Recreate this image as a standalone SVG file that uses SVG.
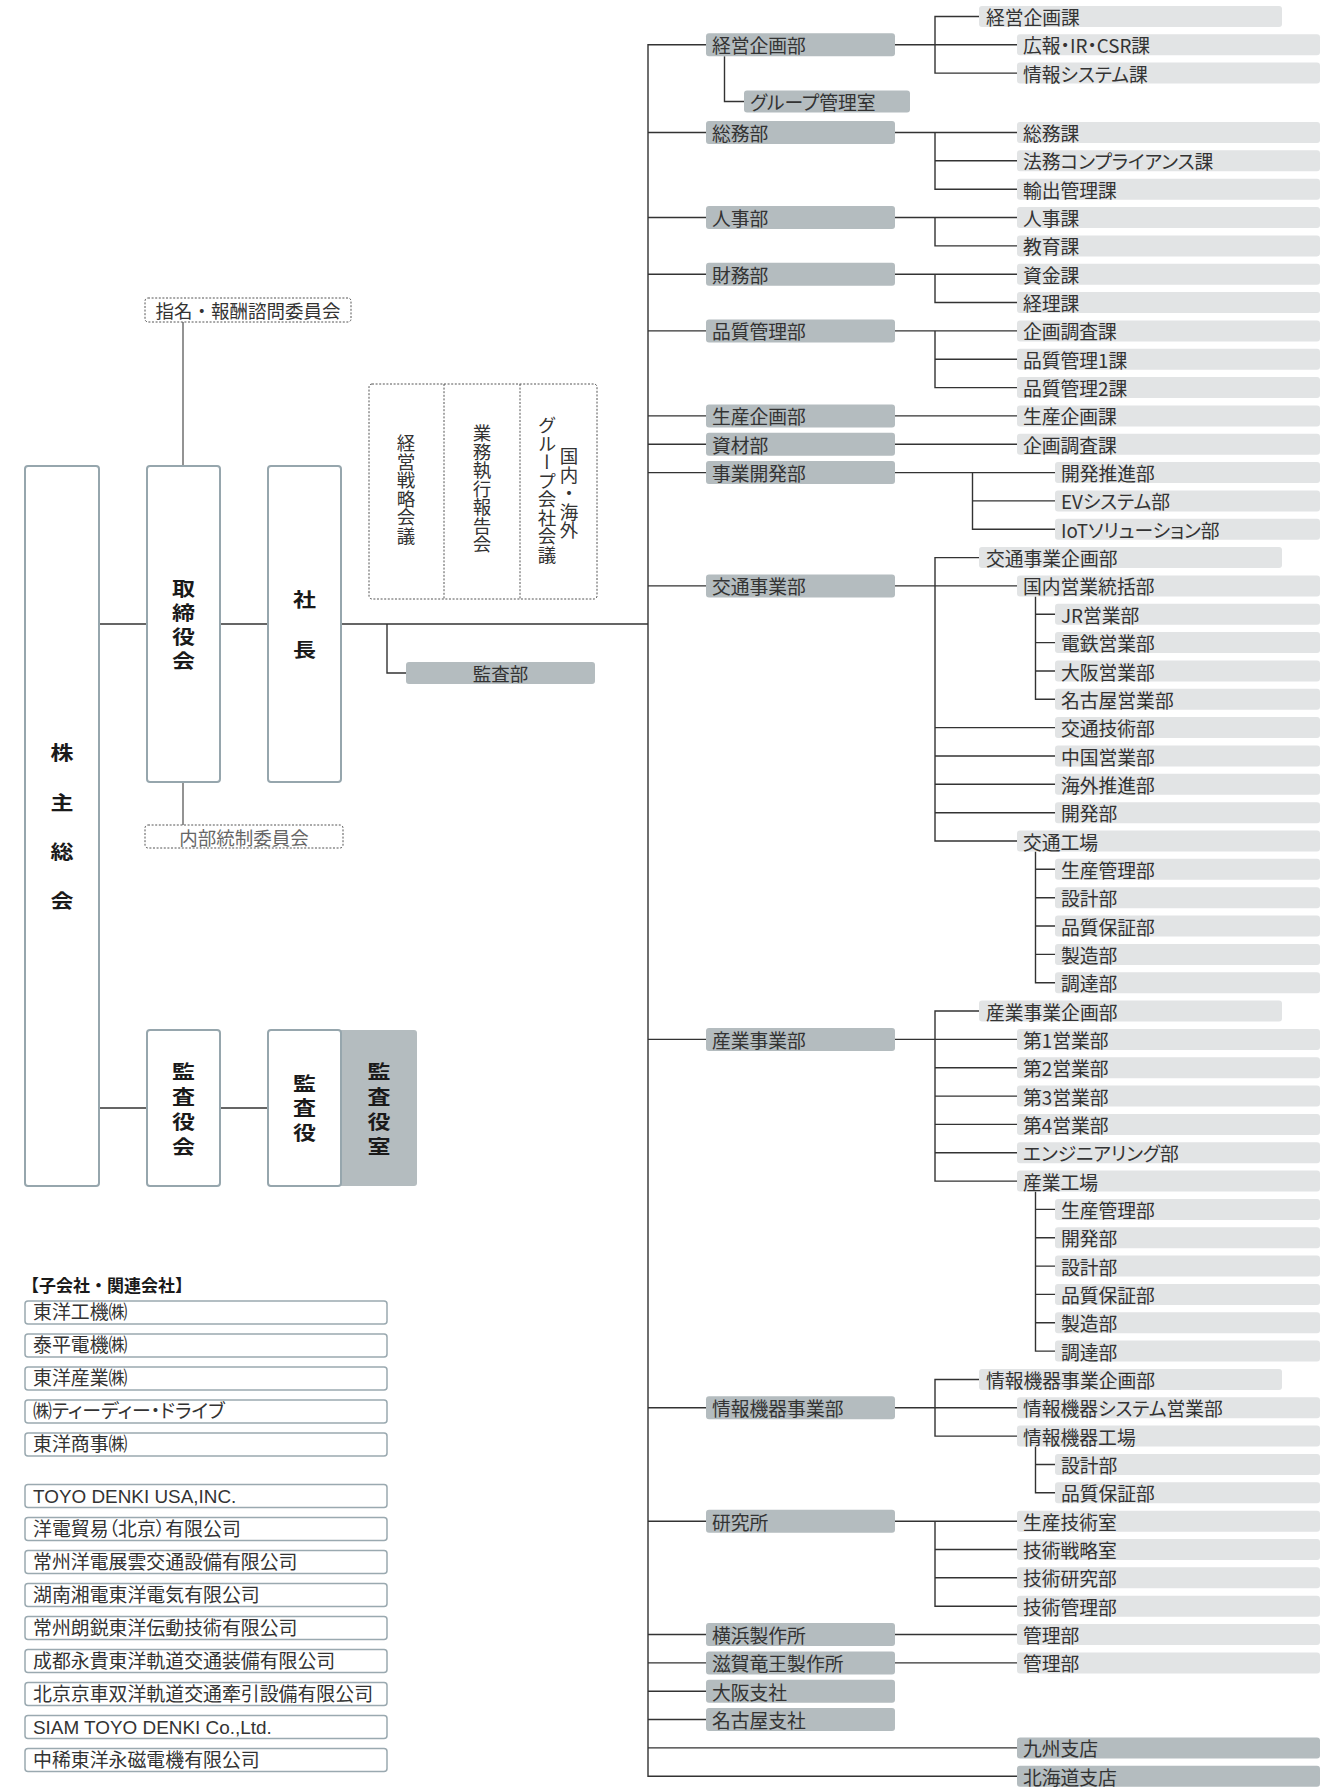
<svg xmlns="http://www.w3.org/2000/svg" width="1334" height="1787" viewBox="0 0 1334 1787">
<style>
.bg{fill:#fff}
.d{fill:#b4bcbf;rx:3px}
.s{fill:#e2e4e5;rx:3px}
.big{fill:#fff;stroke:#96a6ad;stroke-width:2;rx:3px}
.co{fill:#fff;stroke:#9aa9b0;stroke-width:1.5;rx:3px}
.dash{fill:none;stroke:#555;stroke-width:1;stroke-dasharray:2 1.6;rx:3px}
.ln{fill:none;stroke:#333;stroke-width:1.4}
.lg{fill:none;stroke:#666;stroke-width:1.4}
.t{font-family:"Noto Sans CJK JP",sans-serif;font-size:18.8px;fill:#333;dominant-baseline:central;font-feature-settings:"palt"}
.tn{font-family:"Noto Sans CJK JP",sans-serif;font-size:18.5px;fill:#333;dominant-baseline:central}
.tv{font-family:"Noto Sans CJK JP",sans-serif;font-size:18.5px;fill:#333;writing-mode:vertical-rl}
.tl{font-family:"Liberation Sans","Noto Sans CJK JP",sans-serif;font-size:18.9px;fill:#333;dominant-baseline:central;font-feature-settings:"palt"}
.b{font-family:"Noto Sans CJK JP",sans-serif;font-weight:bold;font-size:23px;fill:#1a1a1a;text-anchor:middle;dominant-baseline:central;transform-box:fill-box;transform-origin:center;transform:scaleY(.82)}
.h{font-family:"Noto Sans CJK JP",sans-serif;font-weight:bold;font-size:17px;fill:#1a1a1a;dominant-baseline:central}
</style>
<rect class="bg" x="0" y="0" width="1334" height="1787"/>

<g id="connectors">
<path class="lg" d="M183,322V466M183,782V825"/>
<path class="ln" d="M99,624H147M220,624H268M341,624H648M387,624V673H406M99,1108H147M220,1108H268"/>
<path class="ln" d="M706,44.8H648V1776.2H1017M648,132.5H706M648,217.5H706M648,274.2H706M648,330.9H706M648,415.9H706M648,444.2H706M648,472.6H706M648,585.9H706M648,1039.4H706M648,1407.8H706M648,1521.2H706M648,1634.5H706M648,1662.9H706M648,1691.2H706M648,1719.5H706M648,1747.9H1017"/>
<path class="ln" d="M895,44.8H1017M979,16.5H935V73.1H1017M724.5,56.3V101.5H744"/>
<path class="ln" d="M895,132.5H1017M935,132.5V189.2H1017M935,160.8H1017"/>
<path class="ln" d="M895,217.5H1017M935,217.5V245.9H1017"/>
<path class="ln" d="M895,274.2H1017M935,274.2V302.5H1017"/>
<path class="ln" d="M895,330.9H1017M935,330.9V387.6H1017M935,359.2H1017"/>
<path class="ln" d="M895,415.9H1017M895,444.2H1017"/>
<path class="ln" d="M895,472.6H1055M972.5,472.6V529.3H1055M972.5,500.9H1055"/>
<path class="ln" d="M895,585.9H1017M979,557.6H935V841H1017M935,727.6H1055M935,756H1055M935,784.3H1055M935,812.7H1055"/>
<path class="ln" d="M1035.5,596.4V699.3H1055M1035.5,614.3H1055M1035.5,642.6H1055M1035.5,671H1055"/>
<path class="ln" d="M1035.5,851.5V982.7H1055M1035.5,869.3H1055M1035.5,897.7H1055M1035.5,926H1055M1035.5,954.4H1055"/>
<path class="ln" d="M895,1039.4H1017M979,1011H935V1181.1H1017M935,1067.7H1017M935,1096.1H1017M935,1124.4H1017M935,1152.7H1017"/>
<path class="ln" d="M1035.5,1191.6V1351.1H1055M1035.5,1209.4H1055M1035.5,1237.8H1055M1035.5,1266.1H1055M1035.5,1294.4H1055M1035.5,1322.8H1055"/>
<path class="ln" d="M895,1407.8H1017M979,1379.5H935V1436.1H1017M1035.5,1446.6V1492.8H1055M1035.5,1464.5H1055"/>
<path class="ln" d="M895,1521.2H1017M935,1521.2V1606.2H1017M935,1549.5H1017M935,1577.8H1017"/>
<path class="ln" d="M895,1634.5H1017M895,1662.9H1017"/>
</g>

<g id="kabunushi"><rect class="big" x="25" y="466" width="74" height="720"/>
<text class="b" x="62" y="752">株</text><text class="b" x="62" y="802">主</text><text class="b" x="62" y="851">総</text><text class="b" x="62" y="900">会</text></g>
<g id="torishimariyakukai"><rect class="big" x="147" y="466" width="73" height="316"/>
<text class="b" x="183.5" y="587.5">取</text><text class="b" x="183.5" y="611.7">締</text><text class="b" x="183.5" y="635.8">役</text><text class="b" x="183.5" y="660">会</text></g>
<g id="shacho"><rect class="big" x="268" y="466" width="73" height="316"/>
<text class="b" x="304.5" y="599">社</text><text class="b" x="304.5" y="649">長</text></g>
<g id="shimei"><rect class="dash" x="145" y="298" width="206" height="24"/>
<text class="tn" x="248" y="310" text-anchor="middle">指名・報酬諮問委員会</text></g>
<g id="naibu"><rect class="dash" x="145" y="825" width="198" height="23"/>
<text class="tn" x="244" y="836.5" text-anchor="middle" style="fill:#666">内部統制委員会</text></g>
<g id="meetings"><rect class="dash" x="369" y="384" width="228" height="215"/>
<path class="dash" d="M444,384V599M520,384V599"/>
<text class="tv" x="406" y="434">経営戦略会議</text>
<text class="tv" x="482" y="424">業務執行報告会</text>
<text class="tv" x="547" y="416">グループ会社会議</text>
<text class="tv" x="569" y="447">国内・海外</text></g>
<g id="kansabu"><rect class="d" x="406" y="662" width="189" height="22"/>
<text class="tn" x="500.5" y="673" text-anchor="middle">監査部</text></g>
<g id="kansayakukai"><rect class="big" x="147" y="1030" width="73" height="156"/>
<text class="b" x="183.5" y="1071">監</text><text class="b" x="183.5" y="1096">査</text><text class="b" x="183.5" y="1121">役</text><text class="b" x="183.5" y="1146">会</text></g>
<g id="kansayaku"><rect class="d" x="330" y="1030" width="87" height="156"/><rect class="big" x="268" y="1030" width="73" height="156"/>
<text class="b" x="304.5" y="1082.5">監</text><text class="b" x="304.5" y="1107">査</text><text class="b" x="304.5" y="1132">役</text>
<text class="b" x="379" y="1071">監</text><text class="b" x="379" y="1096">査</text><text class="b" x="379" y="1121">役</text><text class="b" x="379" y="1146">室</text></g>

<g id="affiliates">
<text class="h" x="22" y="1284.5">【子会社・関連会社】</text>
<g id="c1"><rect class="co" x="25" y="1301" width="362" height="23"/><text class="tl" x="33" y="1312.5">東洋工機㈱</text></g>
<g id="c2"><rect class="co" x="25" y="1334" width="362" height="23"/><text class="tl" x="33" y="1345.5">泰平電機㈱</text></g>
<g id="c3"><rect class="co" x="25" y="1367" width="362" height="23"/><text class="tl" x="33" y="1378.5">東洋産業㈱</text></g>
<g id="c4"><rect class="co" x="25" y="1400" width="362" height="23"/><text class="tl" x="33" y="1411.5">㈱ティーディー・ドライブ</text></g>
<g id="c5"><rect class="co" x="25" y="1433" width="362" height="23"/><text class="tl" x="33" y="1444.5">東洋商事㈱</text></g>
<g id="c6"><rect class="co" x="25" y="1484.5" width="362" height="23"/><text class="tl" x="33" y="1496">TOYO DENKI USA,INC.</text></g>
<g id="c7"><rect class="co" x="25" y="1517.5" width="362" height="23"/><text class="tl" x="33" y="1529">洋電貿易（北京）有限公司</text></g>
<g id="c8"><rect class="co" x="25" y="1550.5" width="362" height="23"/><text class="tl" x="33" y="1562">常州洋電展雲交通設備有限公司</text></g>
<g id="c9"><rect class="co" x="25" y="1583.5" width="362" height="23"/><text class="tl" x="33" y="1595">湖南湘電東洋電気有限公司</text></g>
<g id="c10"><rect class="co" x="25" y="1616.5" width="362" height="23"/><text class="tl" x="33" y="1628">常州朗鋭東洋伝動技術有限公司</text></g>
<g id="c11"><rect class="co" x="25" y="1649.5" width="362" height="23"/><text class="tl" x="33" y="1661">成都永貴東洋軌道交通装備有限公司</text></g>
<g id="c12"><rect class="co" x="25" y="1682.5" width="362" height="23"/><text class="tl" x="33" y="1694">北京京車双洋軌道交通牽引設備有限公司</text></g>
<g id="c13"><rect class="co" x="25" y="1715.5" width="362" height="23"/><text class="tl" x="33" y="1727">SIAM TOYO DENKI Co.,Ltd.</text></g>
<g id="c14"><rect class="co" x="25" y="1748.5" width="362" height="23"/><text class="tl" x="33" y="1760">中稀東洋永磁電機有限公司</text></g>
</g>

<g id="depts">
<g id="d1"><rect class="d" x="706" y="33.3" width="189" height="23"/><text class="t" x="712" y="44.8">経営企画部</text></g>
<g id="d1a"><rect class="d" x="744" y="90.5" width="166" height="22"/><text class="t" x="750" y="101.5">グループ管理室</text></g>
<g id="d2"><rect class="d" x="706" y="121" width="189" height="23"/><text class="t" x="712" y="132.5">総務部</text></g>
<g id="d3"><rect class="d" x="706" y="206" width="189" height="23"/><text class="t" x="712" y="217.5">人事部</text></g>
<g id="d4"><rect class="d" x="706" y="262.7" width="189" height="23"/><text class="t" x="712" y="274.2">財務部</text></g>
<g id="d5"><rect class="d" x="706" y="319.4" width="189" height="23"/><text class="t" x="712" y="330.9">品質管理部</text></g>
<g id="d6"><rect class="d" x="706" y="404.4" width="189" height="23"/><text class="t" x="712" y="415.9">生産企画部</text></g>
<g id="d7"><rect class="d" x="706" y="432.7" width="189" height="23"/><text class="t" x="712" y="444.2">資材部</text></g>
<g id="d8"><rect class="d" x="706" y="461.1" width="189" height="23"/><text class="t" x="712" y="472.6">事業開発部</text></g>
<g id="d9"><rect class="d" x="706" y="574.4" width="189" height="23"/><text class="t" x="712" y="585.9">交通事業部</text></g>
<g id="d10"><rect class="d" x="706" y="1027.9" width="189" height="23"/><text class="t" x="712" y="1039.4">産業事業部</text></g>
<g id="d11"><rect class="d" x="706" y="1396.3" width="189" height="23"/><text class="t" x="712" y="1407.8">情報機器事業部</text></g>
<g id="d12"><rect class="d" x="706" y="1509.7" width="189" height="23"/><text class="t" x="712" y="1521.2">研究所</text></g>
<g id="d13"><rect class="d" x="706" y="1623" width="189" height="23"/><text class="t" x="712" y="1634.5">横浜製作所</text></g>
<g id="d14"><rect class="d" x="706" y="1651.4" width="189" height="23"/><text class="t" x="712" y="1662.9">滋賀竜王製作所</text></g>
<g id="d15"><rect class="d" x="706" y="1679.7" width="189" height="23"/><text class="t" x="712" y="1691.2">大阪支社</text></g>
<g id="d16"><rect class="d" x="706" y="1708" width="189" height="23"/><text class="t" x="712" y="1719.5">名古屋支社</text></g>
<g id="d17"><rect class="d" x="1017" y="1737.4" width="303" height="21"/><text class="t" x="1023" y="1747.9">九州支店</text></g>
<g id="d18"><rect class="d" x="1017" y="1765.7" width="303" height="21"/><text class="t" x="1023" y="1776.2">北海道支店</text></g>
</g>

<g id="sections-l0">
<g id="p1"><rect class="s" x="979" y="6" width="303" height="21"/><text class="t" x="986" y="16.5">経営企画課</text></g>
<g id="p2"><rect class="s" x="979" y="547.1" width="303" height="21"/><text class="t" x="986" y="557.6">交通事業企画部</text></g>
<g id="p3"><rect class="s" x="979" y="1000.5" width="303" height="21"/><text class="t" x="986" y="1011">産業事業企画部</text></g>
<g id="p4"><rect class="s" x="979" y="1369" width="303" height="21"/><text class="t" x="986" y="1379.5">情報機器事業企画部</text></g>
</g>

<g id="sections-l1">
<g id="s1"><rect class="s" x="1017" y="34.3" width="303" height="21"/><text class="t" x="1023" y="44.8">広報・IR・CSR課</text></g>
<g id="s2"><rect class="s" x="1017" y="62.6" width="303" height="21"/><text class="t" x="1023" y="73.1">情報システム課</text></g>
<g id="s3"><rect class="s" x="1017" y="122" width="303" height="21"/><text class="t" x="1023" y="132.5">総務課</text></g>
<g id="s4"><rect class="s" x="1017" y="150.3" width="303" height="21"/><text class="t" x="1023" y="160.8">法務コンプライアンス課</text></g>
<g id="s5"><rect class="s" x="1017" y="178.7" width="303" height="21"/><text class="t" x="1023" y="189.2">輸出管理課</text></g>
<g id="s6"><rect class="s" x="1017" y="207" width="303" height="21"/><text class="t" x="1023" y="217.5">人事課</text></g>
<g id="s7"><rect class="s" x="1017" y="235.4" width="303" height="21"/><text class="t" x="1023" y="245.9">教育課</text></g>
<g id="s8"><rect class="s" x="1017" y="263.7" width="303" height="21"/><text class="t" x="1023" y="274.2">資金課</text></g>
<g id="s9"><rect class="s" x="1017" y="292" width="303" height="21"/><text class="t" x="1023" y="302.5">経理課</text></g>
<g id="s10"><rect class="s" x="1017" y="320.4" width="303" height="21"/><text class="t" x="1023" y="330.9">企画調査課</text></g>
<g id="s11"><rect class="s" x="1017" y="348.7" width="303" height="21"/><text class="t" x="1023" y="359.2">品質管理1課</text></g>
<g id="s12"><rect class="s" x="1017" y="377.1" width="303" height="21"/><text class="t" x="1023" y="387.6">品質管理2課</text></g>
<g id="s13"><rect class="s" x="1017" y="405.4" width="303" height="21"/><text class="t" x="1023" y="415.9">生産企画課</text></g>
<g id="s14"><rect class="s" x="1017" y="433.7" width="303" height="21"/><text class="t" x="1023" y="444.2">企画調査課</text></g>
<g id="s15"><rect class="s" x="1017" y="575.4" width="303" height="21"/><text class="t" x="1023" y="585.9">国内営業統括部</text></g>
<g id="s16"><rect class="s" x="1017" y="830.5" width="303" height="21"/><text class="t" x="1023" y="841">交通工場</text></g>
<g id="s17"><rect class="s" x="1017" y="1028.9" width="303" height="21"/><text class="t" x="1023" y="1039.4">第1営業部</text></g>
<g id="s18"><rect class="s" x="1017" y="1057.2" width="303" height="21"/><text class="t" x="1023" y="1067.7">第2営業部</text></g>
<g id="s19"><rect class="s" x="1017" y="1085.6" width="303" height="21"/><text class="t" x="1023" y="1096.1">第3営業部</text></g>
<g id="s20"><rect class="s" x="1017" y="1113.9" width="303" height="21"/><text class="t" x="1023" y="1124.4">第4営業部</text></g>
<g id="s21"><rect class="s" x="1017" y="1142.2" width="303" height="21"/><text class="t" x="1023" y="1152.7">エンジニアリング部</text></g>
<g id="s22"><rect class="s" x="1017" y="1170.6" width="303" height="21"/><text class="t" x="1023" y="1181.1">産業工場</text></g>
<g id="s23"><rect class="s" x="1017" y="1397.3" width="303" height="21"/><text class="t" x="1023" y="1407.8">情報機器システム営業部</text></g>
<g id="s24"><rect class="s" x="1017" y="1425.6" width="303" height="21"/><text class="t" x="1023" y="1436.1">情報機器工場</text></g>
<g id="s25"><rect class="s" x="1017" y="1510.7" width="303" height="21"/><text class="t" x="1023" y="1521.2">生産技術室</text></g>
<g id="s26"><rect class="s" x="1017" y="1539" width="303" height="21"/><text class="t" x="1023" y="1549.5">技術戦略室</text></g>
<g id="s27"><rect class="s" x="1017" y="1567.3" width="303" height="21"/><text class="t" x="1023" y="1577.8">技術研究部</text></g>
<g id="s28"><rect class="s" x="1017" y="1595.7" width="303" height="21"/><text class="t" x="1023" y="1606.2">技術管理部</text></g>
<g id="s29"><rect class="s" x="1017" y="1624" width="303" height="21"/><text class="t" x="1023" y="1634.5">管理部</text></g>
<g id="s30"><rect class="s" x="1017" y="1652.4" width="303" height="21"/><text class="t" x="1023" y="1662.9">管理部</text></g>
</g>

<g id="sections-l2">
<g id="u1"><rect class="s" x="1055" y="462.1" width="265" height="21"/><text class="t" x="1061" y="472.6">開発推進部</text></g>
<g id="u2"><rect class="s" x="1055" y="490.4" width="265" height="21"/><text class="t" x="1061" y="500.9">EVシステム部</text></g>
<g id="u3"><rect class="s" x="1055" y="518.8" width="265" height="21"/><text class="t" x="1061" y="529.3">IoTソリューション部</text></g>
<g id="u4"><rect class="s" x="1055" y="603.8" width="265" height="21"/><text class="t" x="1061" y="614.3">JR営業部</text></g>
<g id="u5"><rect class="s" x="1055" y="632.1" width="265" height="21"/><text class="t" x="1061" y="642.6">電鉄営業部</text></g>
<g id="u6"><rect class="s" x="1055" y="660.5" width="265" height="21"/><text class="t" x="1061" y="671">大阪営業部</text></g>
<g id="u7"><rect class="s" x="1055" y="688.8" width="265" height="21"/><text class="t" x="1061" y="699.3">名古屋営業部</text></g>
<g id="u8"><rect class="s" x="1055" y="717.1" width="265" height="21"/><text class="t" x="1061" y="727.6">交通技術部</text></g>
<g id="u9"><rect class="s" x="1055" y="745.5" width="265" height="21"/><text class="t" x="1061" y="756">中国営業部</text></g>
<g id="u10"><rect class="s" x="1055" y="773.8" width="265" height="21"/><text class="t" x="1061" y="784.3">海外推進部</text></g>
<g id="u11"><rect class="s" x="1055" y="802.2" width="265" height="21"/><text class="t" x="1061" y="812.7">開発部</text></g>
<g id="u12"><rect class="s" x="1055" y="858.8" width="265" height="21"/><text class="t" x="1061" y="869.3">生産管理部</text></g>
<g id="u13"><rect class="s" x="1055" y="887.2" width="265" height="21"/><text class="t" x="1061" y="897.7">設計部</text></g>
<g id="u14"><rect class="s" x="1055" y="915.5" width="265" height="21"/><text class="t" x="1061" y="926">品質保証部</text></g>
<g id="u15"><rect class="s" x="1055" y="943.9" width="265" height="21"/><text class="t" x="1061" y="954.4">製造部</text></g>
<g id="u16"><rect class="s" x="1055" y="972.2" width="265" height="21"/><text class="t" x="1061" y="982.7">調達部</text></g>
<g id="u17"><rect class="s" x="1055" y="1198.9" width="265" height="21"/><text class="t" x="1061" y="1209.4">生産管理部</text></g>
<g id="u18"><rect class="s" x="1055" y="1227.3" width="265" height="21"/><text class="t" x="1061" y="1237.8">開発部</text></g>
<g id="u19"><rect class="s" x="1055" y="1255.6" width="265" height="21"/><text class="t" x="1061" y="1266.1">設計部</text></g>
<g id="u20"><rect class="s" x="1055" y="1283.9" width="265" height="21"/><text class="t" x="1061" y="1294.4">品質保証部</text></g>
<g id="u21"><rect class="s" x="1055" y="1312.3" width="265" height="21"/><text class="t" x="1061" y="1322.8">製造部</text></g>
<g id="u22"><rect class="s" x="1055" y="1340.6" width="265" height="21"/><text class="t" x="1061" y="1351.1">調達部</text></g>
<g id="u23"><rect class="s" x="1055" y="1454" width="265" height="21"/><text class="t" x="1061" y="1464.5">設計部</text></g>
<g id="u24"><rect class="s" x="1055" y="1482.3" width="265" height="21"/><text class="t" x="1061" y="1492.8">品質保証部</text></g>
</g>
</svg>
